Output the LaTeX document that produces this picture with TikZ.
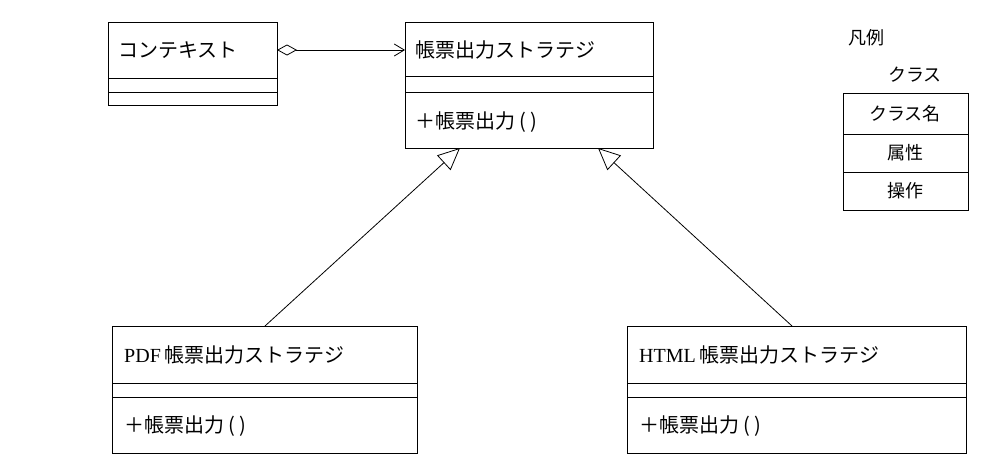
\documentclass[tikz,border=0pt]{standalone}
\usepackage{fontspec}
\setmainfont{Liberation Serif}
\newfontfamily\jp{Noto Sans CJK JP}
\usetikzlibrary{arrows.meta}
\begin{document}
\begin{tikzpicture}[x=1pt,y=-1pt,
 box/.style={draw,thick},
 lab/.style={font=\jp\fontsize{20}{20}\selectfont,anchor=west,inner sep=0},
 llab/.style={font=\jp\fontsize{18}{18}\selectfont,inner sep=0}]
\useasboundingbox (0,0) rectangle (1008,471);
% context
\draw[box] (108,22) rectangle (277,105);
\draw[thick] (108,78)--(277,78) (108,92)--(277,92);
\node[lab] (ctx) at (118,50) {コンテキスト};
\coordinate (ctxR) at (277,50);
% strategy
\draw[box] (405,22) rectangle (653,148);
\draw[thick] (405,76)--(653,76) (405,92)--(653,92);
\node[lab] (st) at (415,50) {帳票出力ストラテジ};
\node[lab] (sto) at (415,122) {＋帳票出力 ( )};
\coordinate (stL) at (405,50);
\coordinate (stB1) at (460,148);
\coordinate (stB2) at (598,148);
% pdf
\draw[box] (112,326) rectangle (417,453);
\draw[thick] (112,383)--(417,383) (112,397)--(417,397);
\node[lab] (pdf) at (124,355) {{\rmfamily PDF\,}帳票出力ストラテジ};
\node[lab] (pdfo) at (124,426) {＋帳票出力 ( )};
\coordinate (pdfT) at (265,326);
% html
\draw[box] (627,326) rectangle (966,453);
\draw[thick] (627,383)--(966,383) (627,397)--(966,397);
\node[lab] (html) at (639,355) {{\rmfamily HTML\,}帳票出力ストラテジ};
\node[lab] (htmlo) at (639,426) {＋帳票出力 ( )};
\coordinate (htmlT) at (792,326);
% connectors
\draw[thick,{Diamond[open,length=20pt,width=11pt]}-{Straight Barb[length=10pt,width=12pt]}] (ctxR)--(stL);
\draw[thick,-{Triangle[open,length=22pt,width=20pt]}] (pdfT)--(stB1);
\draw[thick,-{Triangle[open,length=22pt,width=20pt]}] (htmlT)--(stB2);
% legend
\node[llab] (leg) at (866,38) {凡例};
\node[llab] (lc) at (915,75) {クラス};
\draw[box] (843,93) rectangle (968,210);
\draw[thick] (843,134)--(968,134) (843,172)--(968,172);
\node[llab] (l1) at (905,114) {クラス名};
\node[llab] (l2) at (905,153) {属性};
\node[llab] (l3) at (905,191) {操作};
\end{tikzpicture}
\end{document}
